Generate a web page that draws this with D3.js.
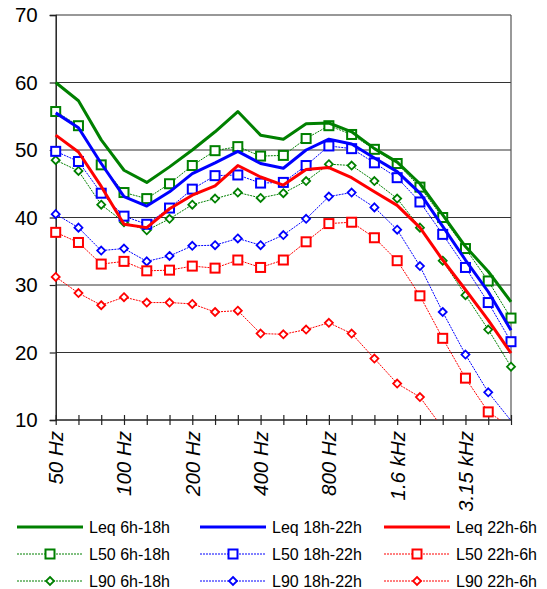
<!DOCTYPE html>
<html><head><meta charset="utf-8">
<script src="https://cdn.jsdelivr.net/npm/d3@7"></script>
<style>body{margin:0;background:#fff}svg{display:block}</style>
</head><body><svg id="c" width="547" height="589"></svg>
<script>
const bands = ["50 Hz","63 Hz","80 Hz","100 Hz","125 Hz","160 Hz","200 Hz","250 Hz","315 Hz","400 Hz","500 Hz","630 Hz","800 Hz","1 kHz","1.25 kHz","1.6 kHz","2 kHz","2.5 kHz","3.15 kHz","4 kHz","5 kHz"];
const shownLabels = ["50 Hz","100 Hz","200 Hz","400 Hz","800 Hz","1.6 kHz","3.15 kHz"];
const yTicks = [10,20,30,40,50,60,70];

const leqDay     = [60.0,57.3,51.5,47.0,45.2,47.5,50.0,52.7,55.7,52.2,51.6,53.9,54.0,52.7,50.2,48.2,45.0,40.4,35.7,32.0,27.5];
const leqEvening = [55.5,53.3,48.0,43.1,41.7,43.8,46.5,48.1,49.8,48.0,47.3,50.0,51.6,50.9,48.8,46.8,43.6,38.7,33.7,29.0,23.3];
const leqNight   = [52.2,49.7,44.6,39.0,38.5,41.3,43.3,44.7,47.7,46.0,44.8,47.1,47.4,45.9,43.8,41.8,38.5,33.7,29.3,24.8,19.9];
const l50Day     = [55.7,53.6,47.8,43.7,42.8,45.0,47.7,49.9,50.5,49.1,49.2,51.7,53.6,52.3,50.1,48.0,44.5,40.0,35.4,30.6,25.1];
const l50Evening = [49.8,48.3,43.6,40.2,39.0,41.4,44.2,46.2,46.3,45.1,45.2,47.7,50.6,50.2,48.1,45.9,42.3,37.5,32.6,27.4,21.6];
const l50Night   = [37.8,36.3,33.1,33.5,32.1,32.2,32.8,32.5,33.7,32.6,33.7,36.4,39.1,39.3,37.0,33.6,28.4,22.1,16.2,11.2,8.9];
const l90Day     = [48.5,46.9,41.9,39.3,38.1,39.8,41.9,42.8,43.7,42.9,43.6,45.4,47.9,47.7,45.4,42.8,38.5,33.6,28.5,23.4,17.9];
const l90Evening = [40.5,38.5,35.1,35.4,33.5,34.3,35.8,35.9,36.9,35.9,37.4,39.8,43.1,43.7,41.5,38.2,32.8,26.0,19.7,14.1,9.9];
const l90Night   = [31.2,28.8,27.0,28.2,27.4,27.4,27.2,26.0,26.2,22.8,22.7,23.4,24.4,22.8,19.1,15.4,13.4,8.8,null,null,null];

const seriesNames  = ["Leq 6h-18h","Leq 18h-22h","Leq 22h-6h","L50 6h-18h","L50 18h-22h","L50 22h-6h","L90 6h-18h","L90 18h-22h","L90 22h-6h"];
const seriesValues = [leqDay,leqEvening,leqNight,l50Day,l50Evening,l50Night,l90Day,l90Evening,l90Night];
const seriesColors = ["#008000","#0000ff","#ff0000","#008000","#0000ff","#ff0000","#008000","#0000ff","#ff0000"];
const seriesKinds  = ["leq","leq","leq","l50","l50","l50","l90","l90","l90"];

(function(){
const svg = d3.select("#c");
const pL = 55.7, pR = 511, pT = 15, pB = 420;
const x = d3.scalePoint().domain(bands).range([pL, pR]);
const y = d3.scaleLinear().domain([10,70]).range([pB, pT]);
const font = "Liberation Sans, Arial, sans-serif";

svg.append("g").selectAll("line").data(yTicks.filter(d=>d>10)).join("line")
  .attr("x1",pL).attr("x2",pR).attr("y1",d=>y(d)).attr("y2",d=>y(d))
  .attr("stroke","#333").attr("stroke-width",1.2);
svg.append("line").attr("x1",pR).attr("x2",pR).attr("y1",pT).attr("y2",pB)
  .attr("stroke","#555").attr("stroke-width",1.2);

const ya = svg.append("g").attr("transform",`translate(${pL},0)`)
  .call(d3.axisLeft(y).tickValues(yTicks).tickSize(6).tickPadding(12).tickFormat(d3.format("d")));
ya.select(".domain").attr("stroke","#222").attr("stroke-width",1.5);
ya.selectAll(".tick line").attr("stroke","#222").attr("stroke-width",1.2);
ya.selectAll("text").attr("font-family",font).attr("font-size",20.5).attr("fill","#000");

const xa = svg.append("g").attr("transform",`translate(0,${pB})`)
  .call(d3.axisBottom(x).tickSize(5).tickFormat(""));
xa.select(".domain").attr("stroke","#222").attr("stroke-width",1.5).attr("d",`M${pL},0H${pR}`);
xa.selectAll(".tick line").attr("y1",-5).attr("y2",5).attr("stroke","#222").attr("stroke-width",1.2);
svg.append("g").selectAll("text").data(shownLabels).join("text")
  .attr("transform",d=>`translate(${x(d)},${pB+11}) rotate(-90)`)
  .attr("text-anchor","end").attr("dy","0.36em")
  .attr("font-family",font).attr("font-size",20.5).attr("font-style","italic").attr("fill","#000")
  .text(d=>d);

svg.append("defs").append("clipPath").attr("id","pc").append("rect")
  .attr("x",0).attr("y",0).attr("width",547).attr("height",pB);

const line = d3.line().defined(d=>d.v!=null).x(d=>x(d.b)).y(d=>y(d.v));
const diamond = r => `M0,${-r}L${r},0L0,${r}L${-r},0Z`;

function drawMarker(g, kind, color){
  if(kind==="l50") g.append("rect").attr("x",-4.5).attr("y",-4.5).attr("width",9).attr("height",9)
    .attr("fill","#fff").attr("stroke",color).attr("stroke-width",2);
  else if(kind==="l90") g.append("path").attr("d",diamond(4)).attr("fill","#fff").attr("stroke",color).attr("stroke-width",1.8);
}

const plot = svg.append("g").attr("clip-path","url(#pc)");
const order = [6,7,8,3,4,5,0,1,2];
order.forEach(i=>{
  const data = seriesValues[i].map((v,j)=>({b:bands[j],v}));
  const kind = seriesKinds[i], color = seriesColors[i];
  plot.append("path").datum(data).attr("d",line).attr("fill","none").attr("stroke",color)
    .attr("stroke-width",kind==="leq"?3:1).attr("stroke-dasharray",kind==="leq"?null:"2,1")
    .attr("stroke-linejoin","round");
  if(kind!=="leq"){
    data.filter(d=>d.v!=null && d.v>=10).forEach(d=>{
      const g = plot.append("g").attr("transform",`translate(${x(d.b)},${y(d.v)})`);
      drawMarker(g,kind,color);
    });
  }
});

// legend box (white, covers overflowing axis labels)
svg.append("rect").attr("x",0).attr("y",511).attr("width",547).attr("height",78).attr("fill","#fff");
const colX = [17,200,384], rowY = [527,554,581];
seriesNames.forEach((name,i)=>{
  const c = i%3, r = Math.floor(i/3);
  const kind = seriesKinds[i], color = seriesColors[i];
  const g = svg.append("g").attr("transform",`translate(${colX[c]},${rowY[r]})`);
  g.append("line").attr("x1",0).attr("x2",66).attr("y1",0).attr("y2",0).attr("stroke",color)
    .attr("stroke-width",kind==="leq"?3:1).attr("stroke-dasharray",kind==="leq"?null:"2,1");
  drawMarker(g.append("g").attr("transform","translate(33,0)"),kind,color);
  g.append("text").attr("x",72).attr("y",0).attr("dy","0.35em")
    .attr("font-family",font).attr("font-size",16).attr("fill","#000").text(name);
});
})();
</script></body></html>
